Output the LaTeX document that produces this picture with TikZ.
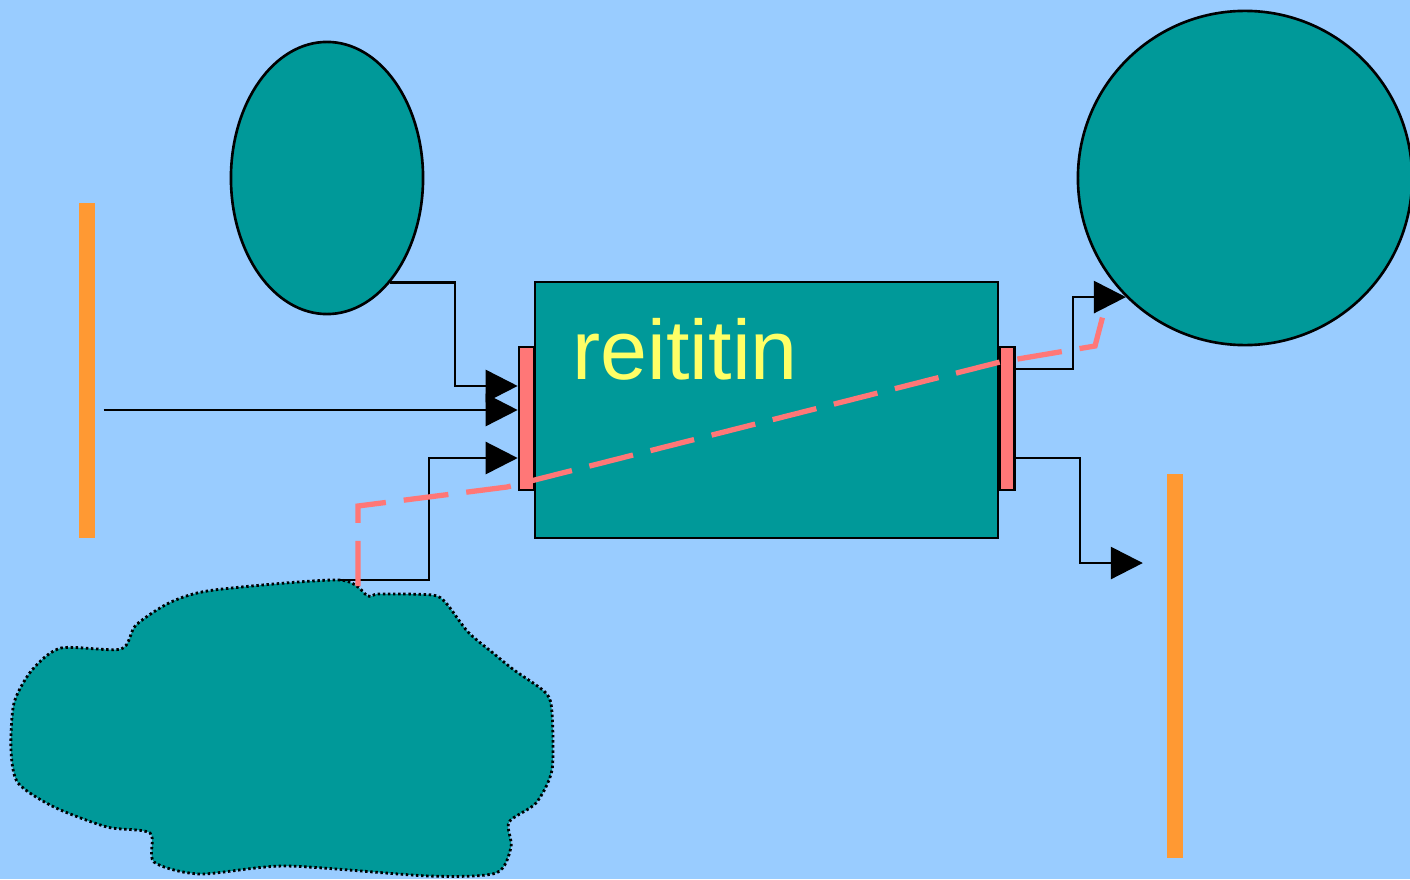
\documentclass[tikz,border=0pt]{standalone}
\usepackage{fontspec}
\setsansfont{Liberation Sans}
\usetikzlibrary{arrows.meta,shapes.geometric,positioning}
\definecolor{mysky}{RGB}{153, 204, 255}
\definecolor{myteal}{RGB}{0, 153, 153}
\definecolor{myorange}{RGB}{255, 153, 51}
\definecolor{mypink}{RGB}{255, 119, 119}
\definecolor{myyellow}{RGB}{255, 255, 102}

\begin{document}
\begin{tikzpicture}[x=0.01cm, y=-0.01cm,
        link/.style={draw=black, line width=0.75pt},
        tip/.style={-{Triangle[length=0.32cm, width=0.32cm]}},
        port/.style={draw=black, fill=mypink, line width=0.75pt, minimum width=0.15cm, minimum height=1.43cm, inner sep=0pt},
        bar/.style={fill=myorange, minimum width=0.16cm, inner sep=0pt},
        route/.style={draw=mypink, line width=1.5pt, dash pattern=on 0.45cm off 0.18cm}]
        % Background
        \fill[mysky] (0,0) rectangle (1410,879);
        \useasboundingbox (0,0) rectangle (1410,879);

        % Orange bars
        \node[bar, minimum height=3.35cm] (lbar) at (87,370.5) {};
        \node[bar, minimum height=3.84cm] (rbar) at (1175,666) {};

        % Hosts
        \node[ellipse, draw, fill=myteal, line width=0.75pt, minimum width=1.92cm, minimum height=2.72cm, inner sep=0pt] (host) at (327,178) {};
        \node[circle, draw, fill=myteal, line width=0.75pt, minimum size=3.34cm, inner sep=0pt] (server) at (1245,178) {};

        % Router with its two ports
        \node[draw, fill=myteal, line width=0.75pt, minimum width=4.63cm, minimum height=2.56cm, inner sep=0pt] (router) at (766.5,410) {};
        \node[anchor=base west, inner sep=0pt, text=myyellow, font=\sffamily\fontsize{24}{28}\selectfont] (name) at (572,379) {reititin};
        \node[port] (lport) at (526.5,418.5) {};
        \node[port] (rport) at (1007,418.5) {};
        \coordinate (in1) at ([yshift=0.325cm]lport.west);
        \coordinate (in2) at ([yshift=0.085cm]lport.west);
        \coordinate (in3) at ([yshift=-0.395cm]lport.west);
        \coordinate (out1) at ([yshift=0.495cm]rport.east);
        \coordinate (out2) at ([yshift=-0.395cm]rport.east);

        % Cloud
        \draw[fill=myteal, line width=0.8pt, dash pattern=on 0.7pt off 0.75pt]
            plot[smooth cycle, tension=0.45] coordinates {
            (339,580) (368,596) (379,594) (432,595) (446,603) (468,632) (493,653)
            (514,670) (546,693) (552,713) (552,770) (536,803) (509,822) (511,847)
            (496,873) (429,876) (286,866) (200,874) (154,862) (150,833) (107,827)
            (54,807) (18,783) (11,750) (14,703) (32,670) (61,648) (121,649)
            (136,625) (171,602) (214,590)};
        \coordinate (cloudtop) at (339,580);

        % Connectors
        \draw[link, tip] (host.-59) -- ++(65,0) |- (in1);
        \draw[link, tip, shorten <=0.08cm] (in2 -| lbar.east) -- (in2);
        \draw[link, tip] (cloudtop) -- ++(90,0) |- (in3);
        \draw[link, tip] (out2) -- ++(64,0) -- ++(0,105) -- ++(63,0);

        % Dashed route
        \draw[route] (358,586) -- (358,506) -- (507,487) -- (1000,362) -- (1095,346) -- (1107,300);
        \draw[link, tip] (out1) -- ++(57,0) |- (server.-135);
\end{tikzpicture}
\end{document}
